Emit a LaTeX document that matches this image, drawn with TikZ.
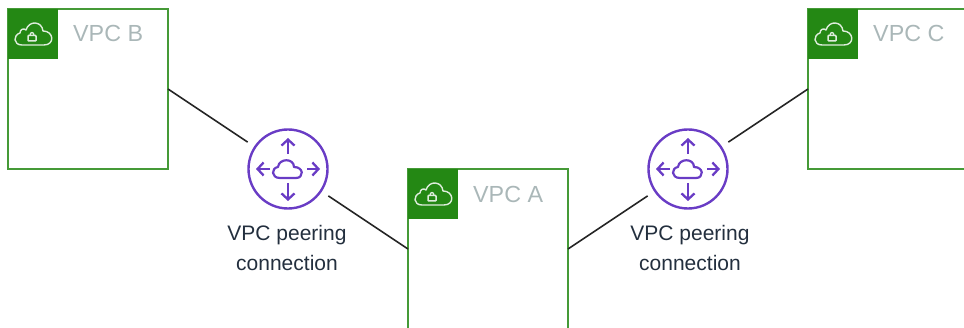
\documentclass[tikz,border=0pt]{standalone}
\usepackage{fontspec}
\setmainfont{Liberation Sans}
\usetikzlibrary{arrows.meta, positioning}
\definecolor{vpcgreen}{HTML}{248814}
\definecolor{peerpurple}{HTML}{693CC5}
\definecolor{vpcgrey}{HTML}{AAB7B8}
\definecolor{peertext}{HTML}{232F3E}
\tikzstyle{vpcbox} = [rectangle, minimum size=160pt, outer sep=0pt, draw=vpcgreen!85!white, line width=2pt]
\tikzstyle{vpctag} = [rectangle, minimum size=50pt, outer sep=0pt, inner sep=0pt, fill=vpcgreen]
\tikzstyle{vpclabel} = [anchor=west, inner sep=0pt, text=vpcgrey, font=\fontsize{23.3}{28}\selectfont]
\tikzstyle{peernode} = [circle, minimum size=79pt, inner sep=0pt, outer sep=9pt, draw=peerpurple, line width=2.4pt]
\tikzstyle{peerlabel} = [align=center, inner sep=0pt, text=peertext, font=\fontsize{21}{30}\selectfont]
\tikzstyle{connector} = [line width=1.6pt, draw=black!85]
\tikzstyle{peerarrow} = [line width=2.3pt, draw=peerpurple, -{Straight Barb[length=6pt,width=13pt]}]
\tikzset{
  cloudlock/.pic={
    \draw[white!85!vpcgreen, line width=1.4pt, line join=round]
      (-11,11) .. controls (-20,11) and (-20,1) .. (-13,-1)
      .. controls (-13,-5) and (-9,-6) .. (-7,-4)
      .. controls (-4,-14) and (9,-13) .. (10,-3)
      .. controls (21,-3) and (22,11) .. (11,11) -- cycle;
    \draw[white!85!vpcgreen, line width=1.5pt, rounded corners=0.8pt]
      (-5,1.5) rectangle (3,7);
    \draw[white!85!vpcgreen, line width=1.3pt]
      (-3,1.5) .. controls (-3,-2.5) and (1,-2.5) .. (1,1.5);
  },
  peercloud/.pic={
    \draw[peerpurple, line width=2.2pt, line join=round]
      (-8,9) .. controls (-17,9) and (-17,-1) .. (-10,-2)
      .. controls (-9,-11) and (6,-11) .. (6,-2)
      .. controls (16,-2) and (16,9) .. (8,9) -- cycle;
    \draw[peerarrow] (0,-15) -- (0,-31);
    \draw[peerarrow] (0,14) -- (0,32);
    \draw[peerarrow] (-18,0) -- (-32,0);
    \draw[peerarrow] (19,0) -- (32,0);
  }
}

\begin{document}
\begin{tikzpicture}[x=1pt, y=-1pt]

  \useasboundingbox (0,0) rectangle (964,328);
  \clip (0,0) rectangle (964,328);

  % VPC boxes
  \node (vpcb) at (88,89) [vpcbox] {};
  \node (vpcc) at (888,89) [vpcbox] {};
  \node (vpca) at (488,249) [vpcbox] {};

  % Green tags
  \node (tagb) at (vpcb.north west) [vpctag, anchor=north west] {};
  \node (tagc) at (vpcc.north west) [vpctag, anchor=north west] {};
  \node (taga) at (vpca.north west) [vpctag, anchor=north west] {};
  \pic at (tagb.center) {cloudlock};
  \pic at (tagc.center) {cloudlock};
  \pic at (taga.center) {cloudlock};

  % VPC names
  \node (nameb) at (73,33) [vpclabel] {VPC B};
  \node (namec) at (873,33) [vpclabel] {VPC C};
  \node (namea) at (473,194) [vpclabel] {VPC A};

  % Peering connections
  \node (peerb) at (288,169) [peernode] {};
  \node (peerc) at (688,169) [peernode] {};
  \pic at (peerb.center) {peercloud};
  \pic at (peerc.center) {peercloud};
  \node (labelb) at (287,248) [peerlabel] {VPC peering\\connection};
  \node (labelc) at (690,248) [peerlabel] {VPC peering\\connection};

  % Connectors
  \draw[connector] (vpcb.east) -- (peerb);
  \draw[connector] (peerb) -- (vpca.west);
  \draw[connector] (vpca.east) -- (peerc);
  \draw[connector] (peerc) -- (vpcc.west);

\end{tikzpicture}
\end{document}
